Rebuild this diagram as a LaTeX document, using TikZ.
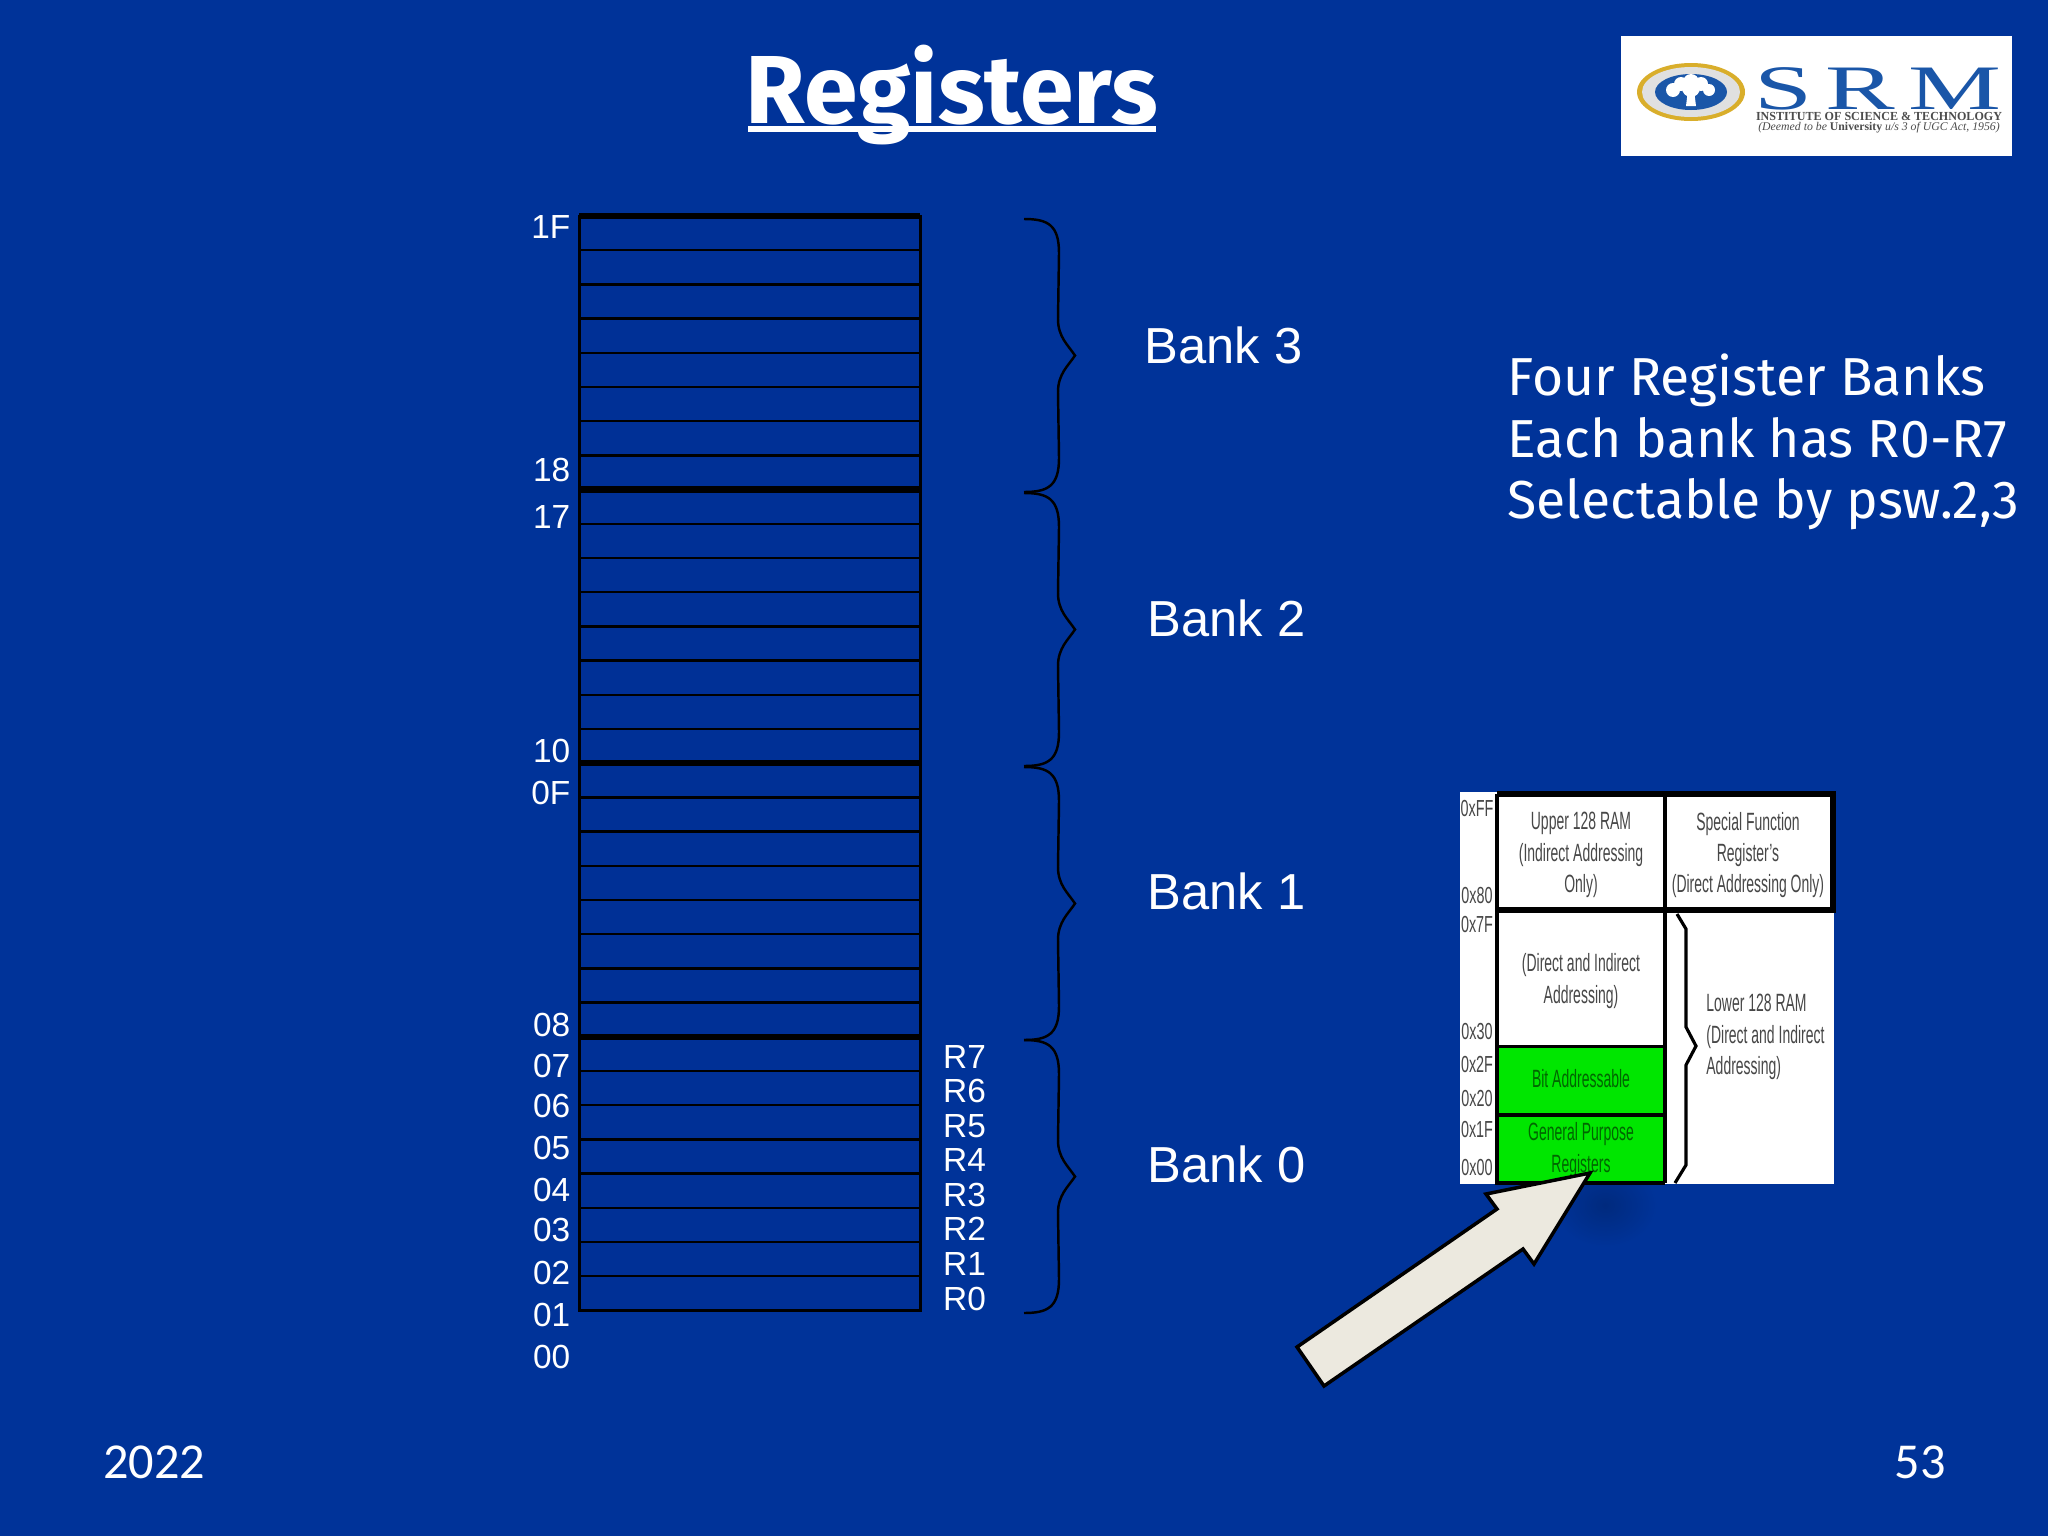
\documentclass[tikz,border=0pt]{standalone}
\usepackage{fontspec}
\setmainfont{Liberation Sans}
\newfontfamily\handfont{Fira Sans}
\newfontfamily\footfont{Carlito}
\newfontfamily\logofont{Liberation Serif}
\usetikzlibrary{positioning}

\definecolor{slidebg}{HTML}{003399}
\definecolor{regfill}{HTML}{003096}
\definecolor{srmblue}{HTML}{1A56A8}
\definecolor{srmgold}{HTML}{D9AE2B}
\definecolor{arrowfill}{HTML}{ECE9DF}
\definecolor{greenfill}{HTML}{00E600}

\tikzset{
  addr/.style={text=white,anchor=east,inner sep=0pt,font=\fontsize{9.5}{10}\selectfont},
  regname/.style={text=white,anchor=west,inner sep=0pt,font=\fontsize{9.5}{10}\selectfont},
  banklabel/.style={text=white,anchor=west,inner sep=0pt,font=\fontsize{14.4}{16}\selectfont},
  inset/.style={text=black!72,align=center,inner sep=0pt,xscale=.56,font=\fontsize{7.1}{8.9}\selectfont},
  insetaddr/.style={text=black!72,inner sep=0pt,xscale=.62,font=\fontsize{6.6}{7}\selectfont},
  bankbrace/.pic={
    \draw [black,line width=0.7pt] (0,0) .. controls (24,0) and (35,6) .. (35,34)
      -- (34,100) .. controls (34,118) and (44,126) .. (51,136.5)
      .. controls (44,147) and (34,155) .. (34,173)
      -- (35,239) .. controls (35,267) and (24,273) .. (0,273);
  }
}

\begin{document}
\begin{tikzpicture}[x=0.01cm,y=-0.01cm]
\useasboundingbox (0,0) rectangle (2048,1536);
\fill [slidebg] (0,0) rectangle (2048,1536);

\node [text=white,inner sep=0pt,font=\handfont\bfseries\fontsize{27.5}{28}\selectfont] (title) at (952,95) {Registers};
\draw [white,line width=1.5pt] (748,129) -- (1156,129);

% logo
\fill [white] (1621,36) rectangle (2012,156);
\fill [srmgold] (1691,92) ellipse [x radius=54,y radius=29];
\fill [white!88!black] (1691,92) ellipse [x radius=49,y radius=25];
\fill [srmblue] (1691,92) ellipse [x radius=36,y radius=18];
\foreach \x/\y/\r in {1673/90/7,1681/84/7,1691/82/8,1701/84/7,1709/90/6,1691/88/9}
{
  \fill [white] (\x,\y) circle [radius=\r];
}
\fill [white] (1688,90) -- (1694,90) -- (1696,106) -- (1686,106) -- cycle;
\node [text=srmblue,inner sep=0pt,xscale=1.65,font=\logofont\fontsize{18}{18}\selectfont] (srm) at (1878,89) {S\kern2.2pt R\kern2.2pt M};
\node [text=black!70,inner sep=0pt,xscale=.98,font=\logofont\bfseries\fontsize{3.5}{4}\selectfont] (srmline) at (1879,116.5) {INSTITUTE OF SCIENCE \& TECHNOLOGY};
\node [text=black!70,inner sep=0pt,font=\logofont\itshape\fontsize{3.35}{4}\selectfont] (srmnote) at (1879,128) {(Deemed to be \textbf{\upshape University} u/s 3 of UGC Act, 1956)};

% register table
\fill [regfill] (579,216) rectangle (920,1310);
\foreach \r in {1,...,31}
{
  \draw [black,line width=0.7pt] (579,216+34.2*\r) -- (920,216+34.2*\r);
}
\foreach \r in {0,8,16,24}
{
  \draw [black,line width=1.8pt] (579,216+34.2*\r) -- (920,216+34.2*\r);
}
\draw [black,line width=0.85pt] (579,216) rectangle (920,1310);

\foreach \y/\t in {174/1F,360/18,396/17,575/10,607/0F,785/08,816/07,847/06,879/05,911/04,942/03,975/02,1007/01,1039/00}
{
  \node [addr] (addr\t) at (571,1.306*\y) {\t};
}
\foreach \y/\t in {809/R7,835/R6,862/R5,888/R4,915/R3,941/R2,968/R1,995/R0}
{
  \node [regname] (reg\t) at (942.5,1.306*\y) {\t};
}

\pic at (1024,219) {bankbrace};
\pic at (1024,493) {bankbrace};
\pic at (1024,767) {bankbrace};
\pic at (1024,1040) {bankbrace};

\node [banklabel] (bank3) at (1144,345) {Bank 3};
\node [banklabel] (bank2) at (1147,618.5) {Bank 2};
\node [banklabel] (bank1) at (1147,891.5) {Bank 1};
\node [banklabel] (bank0) at (1147,1164.5) {Bank 0};

\node [text=white,anchor=west,align=left,inner sep=0pt,font=\handfont\fontsize{15.2}{17.4}\selectfont] (notes) at (1507,442) {Four Register Banks\\Each bank has R0-R7\\Selectable by psw.2,3};

% pointer shadow
\shade [inner color=slidebg!82!black,outer color=slidebg] (1605,1205) ellipse [x radius=52,y radius=42];

% memory map
\fill [white] (1460,792) rectangle (1834,1184);
\fill [greenfill] (1497,1046) rectangle (1665,1183);
\draw [black,line width=1.5pt] (1497,794) -- (1833,794) -- (1833,910) -- (1497,910);
\draw [black,line width=.9pt] (1665,794) -- (1665,1183);
\draw [black,line width=.9pt] (1497,794) -- (1497,1183) -- (1665,1183);
\draw [black,line width=.85pt] (1497,1046) -- (1665,1046);
\draw [black,line width=.9pt] (1497,1115) -- (1665,1115);
\draw [black,line width=.9pt] (1677,914) -- (1686,929) -- (1686,1027) -- (1696,1046) -- (1686,1065) -- (1686,1165) -- (1675,1183);

\foreach \y/\t in {808/0xFF,895/0x80,924/0x7F,1031/0x30,1064/0x2F,1098/0x20,1129/0x1F,1167/0x00}
{
  \node [insetaddr] (map\t) at (1477,\y) {\t};
}
\node [inset] (upper) at (1581,855) {Upper 128 RAM\\(Indirect Addressing\\Only)};
\node [inset] (sfr) at (1748,855) {Special Function\\Register's\\(Direct Addressing Only)};
\node [inset] (direct) at (1581,981) {(Direct and Indirect\\Addressing)};
\node [inset,text=black!60!green] (bitaddr) at (1581,1079) {Bit Addressable};
\node [inset,text=black!60!green] (gpr) at (1581,1150) {General Purpose\\Registers};
\node [inset,align=left,anchor=west] (lower) at (1706,1037) {Lower 128 RAM\\(Direct and Indirect\\Addressing)};

% pointer
\draw [black,line width=1pt,fill=arrowfill,line join=miter] (1590,1173) -- (1486,1194) -- (1497,1209) -- (1297,1347) -- (1324,1386) -- (1523,1249) -- (1534,1264) -- cycle;

\node [text=white,inner sep=0pt,font=\footfont\fontsize{14.3}{16}\selectfont] (year) at (154,1462) {2022};
\node [text=white,inner sep=0pt,font=\footfont\fontsize{14.3}{16}\selectfont] (page) at (1920,1462) {53};
\end{tikzpicture}
\end{document}
